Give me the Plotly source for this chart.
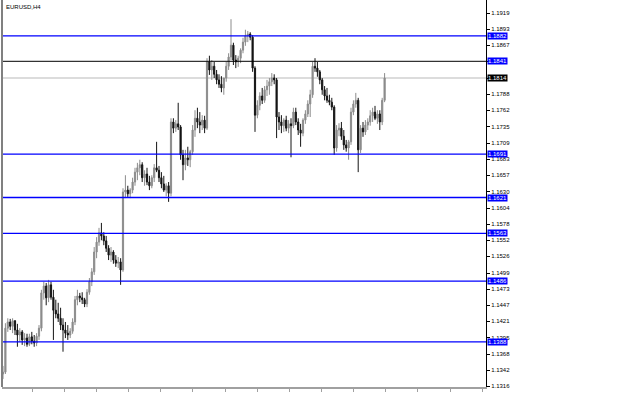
import plotly.graph_objects as go

# ---- data (EURUSD, H4) ----
opens = [1.1336,1.1339,1.1410,1.1420,1.1413,1.1422,1.1407,1.1399,1.1404,1.1391,
         1.1394,1.1384,1.1396,1.1389,1.1386,1.1397,1.1410,1.1467,1.1478,1.1459,
         1.1480,1.1460,1.1439,1.1433,1.1426,1.1415,1.1407,1.1402,1.1399,1.1405,
         1.1420,1.1456,1.1462,1.1459,1.1456,1.1449,1.1468,1.1485,1.1501,1.1533,
         1.1549,1.1564,1.1559,1.1551,1.1539,1.1528,1.1533,1.1520,1.1515,1.1517,
         1.1504,1.1630,1.1633,1.1627,1.1633,1.1646,1.1662,1.1669,1.1674,1.1653,
         1.1659,1.1646,1.1640,1.1653,1.1669,1.1665,1.1653,1.1643,1.1633,1.1640,
         1.1628,1.1743,1.1733,1.1740,1.1735,1.1690,1.1674,1.1685,1.1682,1.1695,
         1.1730,1.1749,1.1743,1.1738,1.1746,1.1733,1.1840,1.1827,1.1833,1.1820,
         1.1811,1.1804,1.1798,1.1814,1.1833,1.1848,1.1867,1.1843,1.1840,1.1846,
         1.1859,1.1872,1.1882,1.1885,1.1880,1.1830,1.1754,1.1770,1.1785,1.1778,
         1.1795,1.1801,1.1808,1.1814,1.1811,1.1751,1.1743,1.1737,1.1746,1.1733,
         1.1740,1.1737,1.1759,1.1743,1.1730,1.1725,1.1746,1.1756,1.1772,1.1787,
         1.1833,1.1830,1.1824,1.1811,1.1795,1.1785,1.1778,1.1775,1.1767,1.1701,
         1.1730,1.1733,1.1720,1.1706,1.1701,1.1711,1.1759,1.1772,1.1778,1.1698,
         1.1733,1.1727,1.1738,1.1743,1.1753,1.1759,1.1749,1.1756,1.1743,1.1778]
highs = [1.1349,1.1418,1.1426,1.1425,1.1426,1.1423,1.1417,1.1410,1.1407,1.1402,
         1.1401,1.1401,1.1404,1.1399,1.1402,1.1415,1.1472,1.1485,1.1483,1.1488,
         1.1485,1.1472,1.1456,1.1451,1.1443,1.1426,1.1420,1.1415,1.1410,1.1426,
         1.1462,1.1472,1.1467,1.1468,1.1459,1.1473,1.1491,1.1507,1.1541,1.1557,
         1.1572,1.1580,1.1565,1.1559,1.1544,1.1541,1.1536,1.1528,1.1525,1.1523,
         1.1636,1.1657,1.1640,1.1636,1.1653,1.1669,1.1677,1.1682,1.1678,1.1665,
         1.1669,1.1656,1.1657,1.1675,1.1711,1.1672,1.1662,1.1656,1.1644,1.1646,
         1.1749,1.1749,1.1746,1.1774,1.1738,1.1698,1.1698,1.1703,1.1698,1.1738,
         1.1762,1.1766,1.1759,1.1754,1.1753,1.1846,1.1850,1.1843,1.1840,1.1827,
         1.1820,1.1817,1.1811,1.1840,1.1854,1.1909,1.1871,1.1851,1.1850,1.1862,
         1.1879,1.1892,1.1890,1.1888,1.1883,1.1833,1.1778,1.1791,1.1798,1.1801,
         1.1811,1.1814,1.1822,1.1820,1.1814,1.1759,1.1754,1.1749,1.1753,1.1746,
         1.1749,1.1766,1.1766,1.1749,1.1740,1.1749,1.1762,1.1778,1.1795,1.1840,
         1.1846,1.1840,1.1827,1.1814,1.1801,1.1798,1.1787,1.1782,1.1770,1.1738,
         1.1741,1.1743,1.1730,1.1714,1.1714,1.1766,1.1778,1.1790,1.1782,1.1738,
         1.1743,1.1746,1.1749,1.1762,1.1766,1.1769,1.1762,1.1762,1.1782,1.1822]
lows = [1.1328,1.1336,1.1404,1.1407,1.1402,1.1399,1.1380,1.1388,1.1383,1.1381,
        1.1380,1.1381,1.1384,1.1380,1.1381,1.1391,1.1405,1.1456,1.1447,1.1452,
        1.1456,1.1391,1.1426,1.1420,1.1407,1.1372,1.1394,1.1391,1.1394,1.1401,
        1.1415,1.1447,1.1452,1.1449,1.1444,1.1444,1.1464,1.1478,1.1496,1.1523,
        1.1543,1.1552,1.1544,1.1533,1.1520,1.1517,1.1514,1.1509,1.1507,1.1480,
        1.1501,1.1620,1.1622,1.1620,1.1628,1.1640,1.1649,1.1657,1.1646,1.1640,
        1.1641,1.1633,1.1636,1.1646,1.1662,1.1646,1.1636,1.1630,1.1623,1.1614,
        1.1623,1.1725,1.1727,1.1730,1.1682,1.1649,1.1665,1.1672,1.1670,1.1690,
        1.1719,1.1733,1.1725,1.1730,1.1725,1.1730,1.1819,1.1811,1.1814,1.1804,
        1.1798,1.1791,1.1787,1.1808,1.1827,1.1843,1.1835,1.1830,1.1832,1.1838,
        1.1854,1.1866,1.1872,1.1875,1.1824,1.1727,1.1749,1.1762,1.1772,1.1774,
        1.1785,1.1787,1.1801,1.1804,1.1717,1.1730,1.1725,1.1727,1.1728,1.1725,
        1.1686,1.1733,1.1738,1.1722,1.1703,1.1720,1.1740,1.1751,1.1751,1.1782,
        1.1824,1.1816,1.1804,1.1787,1.1778,1.1774,1.1770,1.1762,1.1690,1.1695,
        1.1720,1.1714,1.1698,1.1695,1.1682,1.1706,1.1754,1.1766,1.1662,1.1693,
        1.1719,1.1722,1.1730,1.1737,1.1743,1.1746,1.1740,1.1730,1.1738,1.1775]
closes = [1.1339,1.1410,1.1420,1.1413,1.1422,1.1407,1.1399,1.1404,1.1391,1.1394,
          1.1384,1.1396,1.1389,1.1386,1.1397,1.1410,1.1467,1.1478,1.1459,1.1480,
          1.1460,1.1439,1.1433,1.1426,1.1415,1.1407,1.1402,1.1399,1.1405,1.1420,
          1.1456,1.1462,1.1459,1.1456,1.1449,1.1468,1.1485,1.1501,1.1533,1.1549,
          1.1564,1.1559,1.1551,1.1539,1.1528,1.1533,1.1520,1.1515,1.1517,1.1504,
          1.1630,1.1633,1.1627,1.1633,1.1646,1.1662,1.1669,1.1674,1.1653,1.1659,
          1.1646,1.1640,1.1653,1.1669,1.1665,1.1653,1.1643,1.1633,1.1640,1.1628,
          1.1743,1.1733,1.1740,1.1735,1.1690,1.1674,1.1685,1.1682,1.1695,1.1730,
          1.1749,1.1743,1.1738,1.1746,1.1733,1.1840,1.1827,1.1833,1.1820,1.1811,
          1.1804,1.1798,1.1814,1.1833,1.1848,1.1867,1.1843,1.1840,1.1846,1.1859,
          1.1872,1.1882,1.1885,1.1880,1.1830,1.1754,1.1770,1.1785,1.1778,1.1795,
          1.1801,1.1808,1.1814,1.1811,1.1751,1.1743,1.1737,1.1746,1.1733,1.1740,
          1.1737,1.1759,1.1743,1.1730,1.1725,1.1746,1.1756,1.1772,1.1787,1.1833,
          1.1830,1.1824,1.1811,1.1795,1.1785,1.1778,1.1775,1.1767,1.1701,1.1730,
          1.1733,1.1720,1.1706,1.1701,1.1711,1.1759,1.1772,1.1778,1.1698,1.1733,
          1.1727,1.1738,1.1743,1.1753,1.1759,1.1749,1.1756,1.1743,1.1778,1.1814]
bars = list(range(len(closes)))

tick_values = [1.1919,1.1893,1.1867,1.1840,1.1814,1.1788,1.1762,1.1735,
               1.1709,1.1683,1.1657,1.1630,1.1604,1.1578,1.1552,1.1526,
               1.1499,1.1473,1.1447,1.1421,1.1395,1.1368,1.1342,1.1316]
# labels hidden behind the level boxes in the reference
hidden_ticks = [1.1840, 1.1814]

blue_levels = [1.1882, 1.1691, 1.1621, 1.1563, 1.1486, 1.1388]
black_level = 1.1841
bid = 1.1814
symbol = "EURUSD,H4"

tick_text = ["" if v in hidden_ticks else f"{v:.4f}" for v in tick_values]

fig = go.Figure()
fig.add_trace(go.Candlestick(
    x=bars, open=opens, high=highs, low=lows, close=closes,
    increasing=dict(line=dict(color="#8c8c8c", width=1), fillcolor="#8c8c8c"),
    decreasing=dict(line=dict(color="#141414", width=1), fillcolor="#141414"),
    whiskerwidth=0, hoverinfo="skip", showlegend=False))

shapes = []
shapes.append(dict(type="line", xref="paper", x0=0, x1=1, yref="y", y0=bid, y1=bid,
                   line=dict(color="#dcdcdc", width=2), layer="below"))
for lv in blue_levels:
    shapes.append(dict(type="line", xref="paper", x0=0, x1=1, yref="y", y0=lv, y1=lv,
                       line=dict(color="#0000ff", width=1.3), layer="above"))
shapes.append(dict(type="line", xref="paper", x0=0, x1=1, yref="y", y0=black_level, y1=black_level,
                   line=dict(color="#000000", width=1), layer="above"))
shapes.append(dict(type="line", xref="paper", yref="paper", x0=0, x1=0, y0=0, y1=1,
                   line=dict(color="#808080", width=2), layer="above"))

annotations = []
for lv in blue_levels + [black_level]:
    annotations.append(dict(xref="paper", x=1.0, xanchor="left", yref="y", y=lv,
                            text=f"{lv:.4f}", showarrow=False, bgcolor="#0000ff",
                            font=dict(color="white", size=6, family="Liberation Sans"),
                            borderpad=0, xshift=1))
annotations.append(dict(xref="paper", x=1.0, xanchor="left", yref="y", y=bid,
                        text=f"{bid:.4f}", showarrow=False, bgcolor="#000000",
                        font=dict(color="white", size=6, family="Liberation Sans"),
                        borderpad=0, xshift=1))
annotations.append(dict(xref="paper", yref="paper", x=0.004, y=0.995, xanchor="left", yanchor="top",
                        text=symbol, showarrow=False,
                        font=dict(color="black", size=6, family="Liberation Sans")))

fig.update_layout(
    width=625, height=403,
    margin=dict(l=2, r=139, t=0, b=16),
    paper_bgcolor="white", plot_bgcolor="white",
    shapes=shapes, annotations=annotations,
    xaxis=dict(range=[-0.417, 201.25], rangeslider=dict(visible=False), showgrid=False,
               zeroline=False, showline=True, linecolor="#a0a0a0", linewidth=2,
               ticks="outside", ticklen=3, tickcolor="#a0a0a0", tick0=12.1, dtick=13.4,
               showticklabels=False, fixedrange=True),
    yaxis=dict(range=[1.13150, 1.1940], side="right", showgrid=False, zeroline=False,
               showline=True, linecolor="#000000", linewidth=1,
               ticks="outside", ticklen=3, tickcolor="#000000",
               tickvals=tick_values, ticktext=tick_text,
               tickfont=dict(size=6, family="Liberation Sans", color="black"),
               fixedrange=True),
)

fig.write_html("out.html")
